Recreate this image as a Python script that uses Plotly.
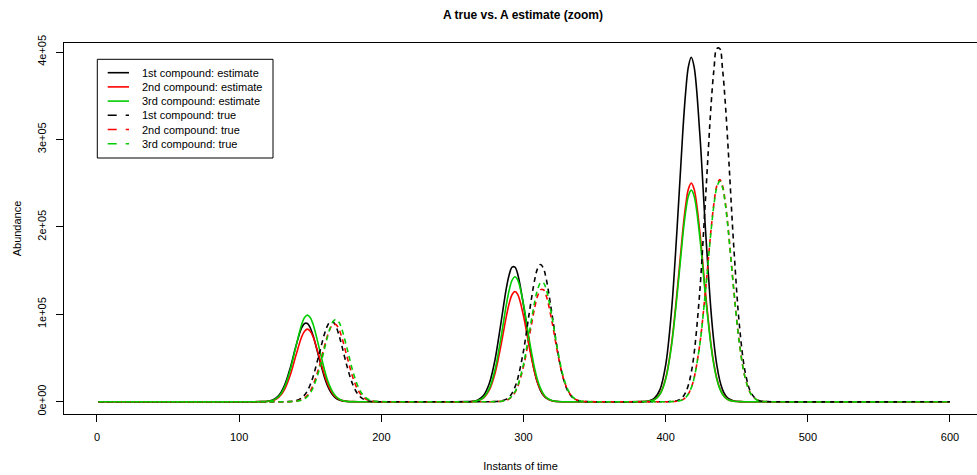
import plotly.graph_objects as go

# ---------------- data ----------------
x_time = [1,
          116, 120, 124, 128, 132, 136, 140, 144, 146, 148, 150, 152, 156, 160, 162, 164, 166, 168, 170, 172, 176, 180, 184, 188, 192, 196, 200,
          260, 264, 268, 272, 276, 280, 284, 288, 290, 292, 294, 296, 300, 304, 308, 310, 312, 314, 316, 320, 324, 328, 332, 336, 340, 344,
          384, 388, 392, 396, 400, 404, 408, 412, 414, 416, 418, 420, 424, 428, 432, 434, 436, 438, 440, 442, 444, 448, 452, 456, 460, 464, 468, 472,
          600]

est_1 = [0,
         100, 600, 2300, 7400, 19000, 39000, 64100, 84600, 89400, 89400, 84600, 75700, 51400, 28000, 19000, 12200, 7400, 4200, 2300, 1200, 300, 0, 0, 0, 0, 0, 0,
         100, 500, 2100, 7300, 21000, 48200, 88500, 130400, 145600, 153900, 153900, 145600, 110400, 67100, 32700, 21000, 12700, 7300, 4000, 1000, 200, 0, 0, 0, 0, 0,
         100, 800, 3700, 13800, 41800, 101600, 197200, 307100, 352700, 383200, 394000, 383200, 307100, 197200, 101600, 67100, 41800, 24700, 13800, 7300, 3700, 800, 100, 0, 0, 0, 0, 0,
         0]

est_2 = [0,
         100, 400, 1500, 5200, 14100, 30700, 53300, 74300, 80700, 83000, 80700, 74300, 53300, 30700, 21400, 14100, 8800, 5200, 2900, 1500, 400, 100, 0, 0, 0, 0, 0,
         0, 300, 1200, 4400, 13400, 32500, 63100, 98200, 112800, 122600, 126000, 122600, 98200, 63100, 32500, 21500, 13400, 7900, 4400, 1200, 300, 0, 0, 0, 0, 0,
         100, 500, 2300, 8800, 26500, 64500, 125100, 194900, 223800, 243200, 250000, 243200, 194900, 125100, 64500, 42600, 26500, 15700, 8800, 4700, 2300, 500, 100, 0, 0, 0, 0, 0,
         0]

est_3 = [0,
         100, 400, 1800, 6200, 16900, 36600, 63600, 88600, 96300, 99000, 96300, 88600, 63600, 36600, 25500, 16900, 10500, 6200, 3500, 1800, 400, 100, 0, 0, 0, 0, 0,
         0, 300, 1300, 5000, 15200, 36900, 71600, 111500, 128000, 139100, 143000, 139100, 111500, 71600, 36900, 24400, 15200, 9000, 5000, 1300, 300, 0, 0, 0, 0, 0,
         100, 500, 2300, 8500, 25700, 62400, 121100, 188600, 216600, 235400, 242000, 235400, 188600, 121100, 62400, 41200, 25700, 15200, 8500, 4500, 2300, 500, 100, 0, 0, 0, 0, 0,
         0]

true_1 = [0,
          0, 0, 0, 0, 0, 300, 1200, 4300, 7600, 12400, 19400, 28600, 52600, 77400, 86400, 91400, 91400, 86400, 77400, 65500, 39800, 19400, 7600, 2400, 600, 100, 0,
          0, 0, 0, 0, 0, 100, 700, 2900, 5500, 9800, 16700, 26700, 58000, 100800, 140500, 152700, 157000, 152700, 140500, 100800, 58000, 26700, 9800, 2900, 700, 100,
          0, 0, 0, 0, 0, 200, 1200, 5400, 10400, 19100, 33300, 54800, 125900, 231300, 340700, 380500, 404000, 404000, 380500, 340700, 288400, 175300, 85400, 33300, 10400, 2600, 500, 100,
          0]

true_2 = [0,
          0, 0, 0, 0, 0, 100, 600, 2300, 4200, 7300, 12000, 18800, 38500, 63400, 74900, 83600, 88400, 88400, 83600, 74900, 50800, 27700, 12000, 4200, 1200, 300, 0,
          0, 0, 0, 0, 0, 100, 400, 1700, 3300, 6100, 10600, 17500, 40100, 73700, 108500, 121200, 128100, 128100, 121200, 91900, 55800, 27200, 10600, 3300, 800, 200,
          0, 0, 0, 0, 0, 100, 500, 2400, 4700, 8900, 15900, 26900, 65500, 127100, 198000, 227400, 247100, 254000, 247100, 227400, 198000, 127100, 65500, 26900, 8900, 2400, 500, 100,
          0]

true_3 = [0,
          0, 0, 0, 0, 0, 100, 400, 1700, 3300, 5900, 10000, 16000, 34700, 60400, 73300, 84100, 91400, 94000, 91400, 84100, 60400, 34700, 16000, 5900, 1700, 400, 100,
          0, 0, 0, 0, 0, 100, 400, 1800, 3500, 6500, 11200, 18500, 42600, 78300, 115300, 128700, 136100, 136100, 128700, 97600, 59300, 28900, 11200, 3500, 900, 200,
          0, 0, 0, 0, 0, 100, 500, 2300, 4700, 8800, 15800, 26700, 65000, 126100, 196400, 225600, 245100, 252000, 245100, 225600, 196400, 126100, 65000, 26700, 8800, 2300, 500, 100,
          0]

series_names = ["1st compound: estimate", "2nd compound: estimate", "3rd compound: estimate",
                "1st compound: true", "2nd compound: true", "3rd compound: true"]
series_values = [est_1, est_2, est_3, true_1, true_2, true_3]
series_colors = ["#000000", "#FF0000", "#00CD00", "#000000", "#FF0000", "#00CD00"]
series_dash = ["solid", "solid", "solid", "5px,4px", "5px,4px", "5px,4px"]

x_ticks = [0, 100, 200, 300, 400, 500, 600]
y_ticks = [0, 100000, 200000, 300000, 400000]
y_tick_labels = ["0e+00", "1e+05", "2e+05", "3e+05", "4e+05"]

# ---------------- figure ----------------
W, H = 977, 475
ML, MR, MT, MB = 64, 0, 43, 61
PW, PH = W - ML - MR, H - MT - MB
FONT = "Liberation Sans, Arial, Helvetica, sans-serif"


def px_x(p):
    return (p - ML) / PW


def px_y(p):
    return (H - MB - p) / PH


fig = go.Figure()
for name, vals, col, dash in zip(series_names, series_values, series_colors, series_dash):
    fig.add_trace(go.Scatter(
        x=x_time, y=vals, mode="lines", name=name,
        line=dict(color=col, width=1.6, dash=dash, shape="spline", smoothing=1.0),
        showlegend=False, hoverinfo="x+y+name",
    ))

# legend drawn like the R legend box
shapes = [dict(type="rect", xref="paper", yref="paper",
               x0=px_x(97.3), x1=px_x(273), y0=px_y(158), y1=px_y(59.3),
               line=dict(color="black", width=1), fillcolor="white", layer="above")]
annotations = []
for i, (name, col, dash) in enumerate(zip(series_names, series_colors, series_dash)):
    yy = 72.7 + 14.2 * i
    shapes.append(dict(type="line", xref="paper", yref="paper",
                       x0=px_x(107.7), x1=px_x(129), y0=px_y(yy), y1=px_y(yy),
                       line=dict(color=col, width=1.6, dash="dash" if dash != "solid" else "solid"),
                       layer="above"))
    annotations.append(dict(xref="paper", yref="paper", x=px_x(140), y=px_y(yy),
                            text=name, showarrow=False, xanchor="left", yanchor="middle",
                            font=dict(family=FONT, size=11, color="black")))

fig.update_layout(
    width=W, height=H,
    margin=dict(l=ML, r=MR, t=MT, b=MB, autoexpand=False),
    paper_bgcolor="white", plot_bgcolor="white",
    font=dict(family=FONT, size=11, color="black"),
    title=dict(text="<b>A true vs. A estimate (zoom)</b>", font=dict(family=FONT, size=12, color="black"),
               x=523 / W, xref="container", xanchor="center",
               y=1 - 14.5 / H, yref="container", yanchor="middle"),
    shapes=shapes, annotations=annotations,
    showlegend=False,
)

fig.update_xaxes(
    range=[-23.2, 619.0], tickmode="array", tickvals=x_ticks,
    ticks="outside", ticklen=7, tickcolor="black", tickwidth=1,
    showline=True, mirror=True, linecolor="black", linewidth=1,
    showgrid=False, zeroline=False, ticklabelstandoff=6,
    tickfont=dict(family=FONT, size=11, color="black"),
    title=dict(text="Instants of time", font=dict(family=FONT, size=11, color="black"), standoff=20),
)
fig.update_yaxes(
    range=[-14070, 410300], tickmode="array", tickvals=y_ticks, ticktext=y_tick_labels,
    tickangle=-90, ticks="outside", ticklen=7, tickcolor="black", tickwidth=1,
    showline=True, mirror=False, linecolor="black", linewidth=1,
    showgrid=False, zeroline=False, ticklabelstandoff=6,
    tickfont=dict(family=FONT, size=11, color="black"),
    title=dict(text="Abundance", font=dict(family=FONT, size=11, color="black"), standoff=11),
)

fig.write_html("out.html")
